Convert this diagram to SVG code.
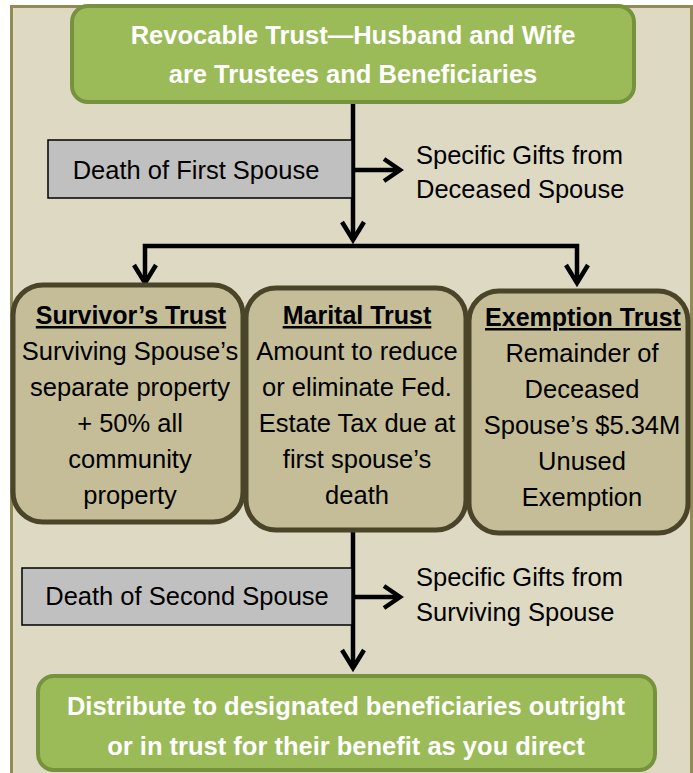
<svg xmlns="http://www.w3.org/2000/svg" width="693" height="773" viewBox="0 0 693 773">
<defs>
<style>
text{font-family:"Liberation Sans",Arial,sans-serif;text-anchor:middle}
.w{fill:#ffffff;font-weight:bold;font-size:25.5px}
.b{fill:#000000;font-size:25.5px}
.t{fill:#000000;font-size:25px;font-weight:bold;text-decoration:underline}
.g{fill:#9bbb59;stroke:#76923c;stroke-width:4}
.k{fill:#c4bd97;stroke:#4a4529;stroke-width:5}
.gr{fill:#c0c0c0;stroke:#000;stroke-width:1.5}
.ln{fill:none;stroke:#000;stroke-width:4.5}
.ah{fill:none;stroke:#000;stroke-width:4.5;stroke-linejoin:miter;stroke-linecap:butt}
</style>
</defs>
<rect x="11.5" y="6.5" width="680" height="780" fill="#ddd9c3" stroke="#948a54" stroke-width="3"/>
<g id="connectors">
<line class="ln" x1="353" y1="102" x2="353" y2="240"/>
<polyline class="ah" points="342,222 353,240 364,222"/>
<line class="ln" x1="353" y1="170" x2="398" y2="170"/>
<polyline class="ah" points="384,159 400,170 384,181"/>
<polyline class="ln" points="145,283 145,246 577,246 577,283"/>
<polyline class="ah" points="134,265 145,283 156,265"/>
<polyline class="ah" points="566,265 577,283 588,265"/>
<line class="ln" x1="353" y1="530" x2="353" y2="668"/>
<polyline class="ah" points="342,650 353,668 364,650"/>
<line class="ln" x1="353" y1="597" x2="398" y2="597"/>
<polyline class="ah" points="384,586 400,597 384,608"/>
</g>
<g id="top">
<rect class="g" x="72" y="6" width="562" height="96" rx="16"/>
<text class="w" x="353" y="44">Revocable Trust—Husband and Wife</text>
<text class="w" x="353" y="83">are Trustees and Beneficiaries</text>
</g>
<g id="death1">
<rect class="gr" x="48" y="140" width="304" height="58"/>
<text class="b" x="196" y="179">Death of First Spouse</text>
</g>
<g id="gifts1">
<text class="b" x="416" y="164" style="text-anchor:start">Specific Gifts from</text>
<text class="b" x="416" y="198" style="text-anchor:start">Deceased Spouse</text>
</g>
<g id="survivor">
<rect class="k" x="13" y="285" width="230" height="237" rx="30"/>
<text class="t" x="131" y="324">Survivor’s Trust</text>
<text class="b" x="130" y="360">Surviving Spouse’s</text>
<text class="b" x="130" y="396">separate property</text>
<text class="b" x="130" y="432">+ 50% all</text>
<text class="b" x="130" y="468">community</text>
<text class="b" x="130" y="504">property</text>
</g>
<g id="marital">
<rect class="k" x="246" y="288" width="220" height="242" rx="30"/>
<text class="t" x="357" y="324">Marital Trust</text>
<text class="b" x="357" y="360">Amount to reduce</text>
<text class="b" x="357" y="396">or eliminate Fed.</text>
<text class="b" x="357" y="432">Estate Tax due at</text>
<text class="b" x="357" y="468">first spouse’s</text>
<text class="b" x="357" y="504">death</text>
</g>
<g id="exemption">
<rect class="k" x="469" y="291" width="219" height="242" rx="30"/>
<text class="t" x="583" y="326">Exemption Trust</text>
<text class="b" x="582" y="362">Remainder of</text>
<text class="b" x="582" y="398">Deceased</text>
<text class="b" x="582" y="434">Spouse’s $5.34M</text>
<text class="b" x="582" y="470">Unused</text>
<text class="b" x="582" y="506">Exemption</text>
</g>
<g id="death2">
<rect class="gr" x="22" y="568" width="330" height="57"/>
<text class="b" x="187" y="605">Death of Second Spouse</text>
</g>
<g id="gifts2">
<text class="b" x="416" y="586" style="text-anchor:start">Specific Gifts from</text>
<text class="b" x="416" y="621" style="text-anchor:start">Surviving Spouse</text>
</g>
<g id="bottom">
<rect class="g" x="38" y="676" width="617" height="94" rx="16"/>
<text class="w" x="346" y="715">Distribute to designated beneficiaries outright</text>
<text class="w" x="346" y="755">or in trust for their benefit as you direct</text>
</g>
</svg>
